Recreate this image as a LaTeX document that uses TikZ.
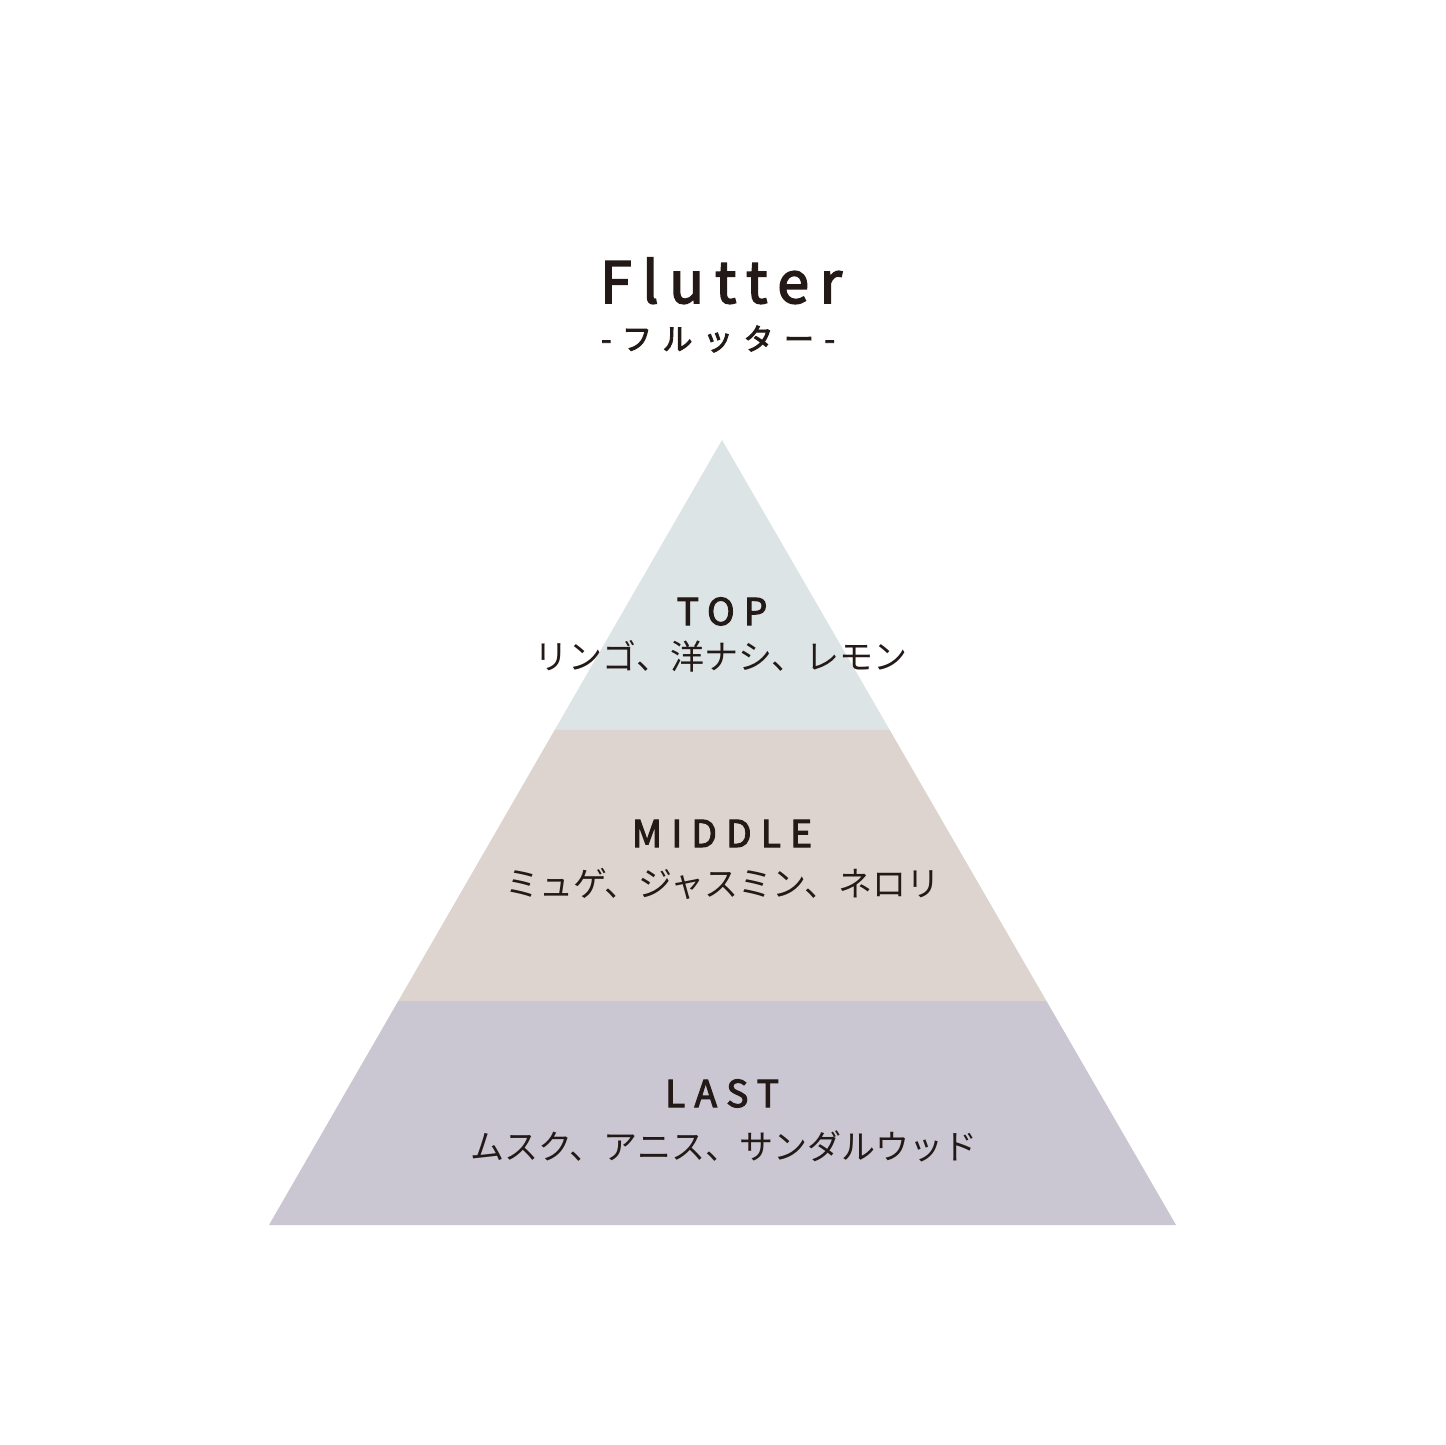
\documentclass[tikz,border=0pt]{standalone}
\usepackage{fontspec}
\setmainfont{Noto Sans CJK JP}
\newfontfamily\medfont[FakeBold=3]{Noto Sans CJK JP}
\usetikzlibrary{calc}
\definecolor{topc}{HTML}{DCE4E5}
\definecolor{midc}{HTML}{DDD4D0}
\definecolor{lastc}{HTML}{CAC6D2}
\definecolor{ink}{HTML}{231916}
\tikzset{
  txt/.style={inner sep=0pt, text=ink},
  head/.style={txt, anchor=base, font=\medfont\fontsize{37}{37}\selectfont\addfontfeature{LetterSpace=25}},
  note/.style={txt, anchor=center, font=\fontsize{34}{34}\selectfont},
}
\begin{document}
\begin{tikzpicture}[x=1pt,y=-1pt]
\useasboundingbox (0,0) rectangle (1445,1445);
\fill[white] (0,0) rectangle (1445,1445);
\coordinate (apex) at (722,440);
\coordinate (bl) at (269,1225);
\coordinate (br) at (1176,1225);
\coordinate (l1) at ($(apex)!0.3694!(bl)$);
\coordinate (r1) at ($(apex)!0.3694!(br)$);
\coordinate (l2) at ($(apex)!0.7147!(bl)$);
\coordinate (r2) at ($(apex)!0.7147!(br)$);
\fill[topc] (apex) -- (l1) -- (r1) -- cycle;
\fill[midc] (l1) -- (l2) -- (r2) -- (r1) -- cycle;
\fill[lastc] (l2) -- (bl) -- (br) -- (r2) -- cycle;

\node[txt, anchor=base, font=\medfont\fontsize{57}{57}\selectfont\addfontfeature{LetterSpace=19}] (title) at (721,303) {Flutter};
\node[txt, anchor=center, font=\medfont\fontsize{30}{30}\selectfont\addfontfeature{LetterSpace=35}] (sub) at (718,339) {-フルッター-};

\node[head] (top) at (722,625) {TOP};
\node[head] (mid) at (722,847) {MIDDLE};
\node[head] (last) at (722,1107) {LAST};
\node[note] (topn) at (721,656) {リンゴ、洋ナシ、レモン};
\node[note] (midn) at (723,884) {ミュゲ、ジャスミン、ネロリ};
\node[note] (lastn) at (724,1146) {ムスク、アニス、サンダルウッド};
\end{tikzpicture}
\end{document}
